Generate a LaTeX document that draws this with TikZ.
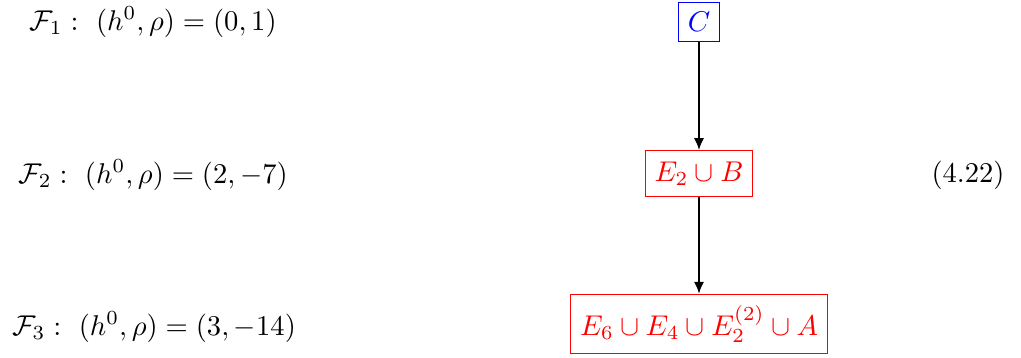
\documentclass[tikz,border=0pt]{standalone}
\usetikzlibrary{arrows.meta}
\begin{document}
\begin{tikzpicture}[x=0.35pt,y=-0.35pt,
  lbl/.style={inner sep=0pt},
  bluebox/.style={draw=blue,text=blue,line width=0.4pt,inner sep=3.33pt},
  redbox/.style={draw=red,text=red,line width=0.4pt,inner xsep=3.33pt,inner ysep=3.8pt},
  arr/.style={-{Latex[length=4.2pt,width=3.6pt]},line width=0.75pt}]
\useasboundingbox (0,0) rectangle (1021,358);
\node[lbl] (f1) at (153,22) {$\mathcal{F}_1:\ (h^0,\rho)=(0,1)$};
\node[lbl] (f2) at (153,175) {$\mathcal{F}_2:\ (h^0,\rho)=(2,-7)$};
\node[lbl] (f3) at (154,327) {$\mathcal{F}_3:\ (h^0,\rho)=(3,-14)$};
\node[lbl] (eq) at (968,175) {(4.22)};
\node[bluebox] (c) at (699,22) {$C$};
\node[redbox] (e2b) at (699,173.5) {$E_2\cup B$};
\node[redbox] (e6) at (699,324) {$E_6\cup E_4\cup E_2^{(2)}\cup A$};
\draw[arr] (c) -- (e2b);
\draw[arr] (e2b) -- (e6);
\end{tikzpicture}
\end{document}
